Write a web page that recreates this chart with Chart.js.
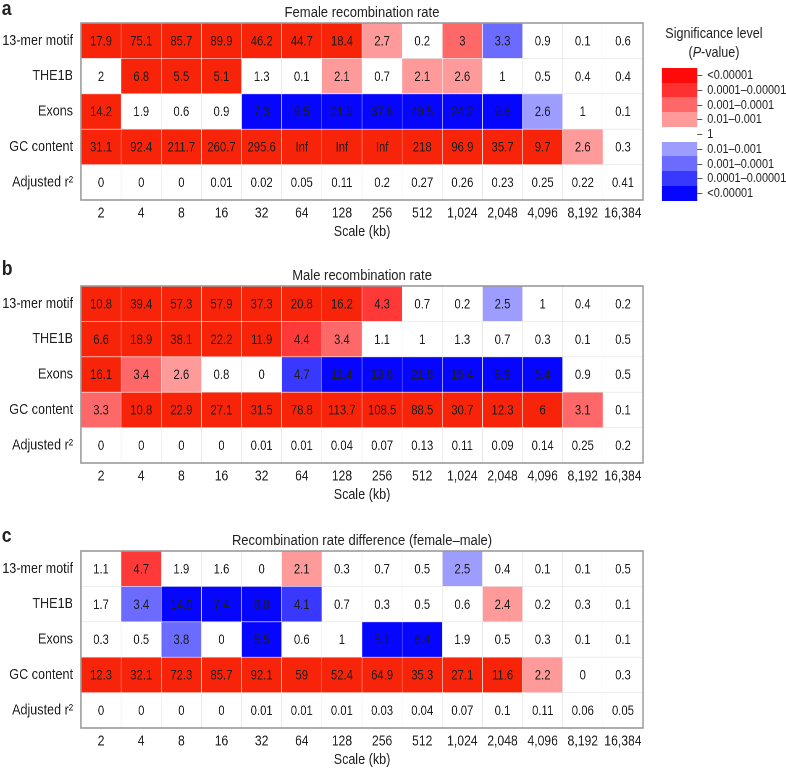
<!DOCTYPE html>
<html>
<head>
<meta charset="utf-8">
<script src="https://cdn.jsdelivr.net/npm/chart.js@4.4.0/dist/chart.umd.min.js"></script>
<style>
    body { margin: 0; background: #fff; width: 786px; height: 768px; overflow: hidden; position: relative; color: #222; }
    /* the source figure is horizontally condensed; lay out wide, then squeeze */
    #fig { position: absolute; left: 0; top: 0; width: 936px; height: 768px; transform: scaleX(0.84); transform-origin: 0 0;
           font-family: "Liberation Sans", Arial, sans-serif; }
    .panel { position: absolute; left: 0; }
    .letter { position: absolute; left: 2px; font-weight: bold; font-size: 21px; line-height: 22px; }
    .ttl { position: absolute; left: 96px; width: 670px; text-align: center; font-size: 15.5px; line-height: 18px; }
    .leg-title { position: absolute; left: 774px; width: 152px; text-align: center; font-size: 15px; line-height: 19px; }
    .sw { position: absolute; left: 788px; width: 42px; }
    .tk { position: absolute; left: 830px; width: 6px; height: 1px; background: #555; }
    .lbl { position: absolute; left: 842px; font-size: 13px; line-height: 14px; white-space: nowrap; }
</style>
</head>
<body>
<div id="fig">
<div class="letter" style="top:-3px">a</div>
<div class="ttl" style="top:3px">Female recombination rate</div>
<canvas id="chartA" class="panel" style="top:0"></canvas>

<div class="letter" style="top:257px">b</div>
<div class="ttl" style="top:266px">Male recombination rate</div>
<canvas id="chartB" class="panel" style="top:263px"></canvas>

<div class="letter" style="top:524px">c</div>
<div class="ttl" style="top:531px">Recombination rate difference (female–male)</div>
<canvas id="chartC" class="panel" style="top:528px"></canvas>

<div class="leg-title" style="top:23px">Significance level<br>(<i>P</i>-value)</div>
<div id="legend"></div>
</div>

<script>
        // scale (kb) on the x axis, predictors on the y axis
        const scaleLabels = ['2', '4', '8', '16', '32', '64', '128', '256', '512', '1,024', '2,048', '4,096', '8,192', '16,384'];
        const rowNames = ['13-mer motif', 'THE1B', 'Exons', 'GC content', 'Adjusted r²'];

        // a: female recombination rate (-log10 P, Inf = beyond precision)
        const femaleMotif = [17.9, 75.1, 85.7, 89.9, 46.2, 44.7, 18.4, 2.7, 0.2, 3, 3.3, 0.9, 0.1, 0.6];
        const femaleThe1b = [2, 6.8, 5.5, 5.1, 1.3, 0.1, 2.1, 0.7, 2.1, 2.6, 1, 0.5, 0.4, 0.4];
        const femaleExons = [14.2, 1.9, 0.6, 0.9, 7.3, 9.5, 21.9, 37.6, 49.5, 24.2, 9.6, 2.6, 1, 0.1];
        const femaleGC = [31.1, 92.4, 211.7, 260.7, 295.6, Infinity, Infinity, Infinity, 218, 96.9, 35.7, 9.7, 2.6, 0.3];
        const femaleR2 = [0, 0, 0, 0.01, 0.02, 0.05, 0.11, 0.2, 0.27, 0.26, 0.23, 0.25, 0.22, 0.41];
        // direction of effect per cell: + positive (red), - negative (blue)
        const femaleSign = ['++++++++++--++', '++++++++++++++', '++++----------', '++++++++++++++'];

        // b: male recombination rate
        const maleMotif = [10.8, 39.4, 57.3, 57.9, 37.3, 20.8, 16.2, 4.3, 0.7, 0.2, 2.5, 1, 0.4, 0.2];
        const maleThe1b = [6.6, 18.9, 38.1, 22.2, 11.9, 4.4, 3.4, 1.1, 1, 1.3, 0.7, 0.3, 0.1, 0.5];
        const maleExons = [16.1, 3.4, 2.6, 0.8, 0, 4.7, 11.4, 13.6, 21.8, 15.4, 8.9, 5.4, 0.9, 0.5];
        const maleGC = [3.3, 10.8, 22.9, 27.1, 31.5, 78.8, 113.7, 108.5, 88.5, 30.7, 12.3, 6, 3.1, 0.1];
        const maleR2 = [0, 0, 0, 0, 0.01, 0.01, 0.04, 0.07, 0.13, 0.11, 0.09, 0.14, 0.25, 0.2];
        const maleSign = ['++++++++++-+++', '++++++++++++++', '+++++-------++', '++++++++++++++'];

        // c: recombination rate difference (female-male)
        const diffMotif = [1.1, 4.7, 1.9, 1.6, 0, 2.1, 0.3, 0.7, 0.5, 2.5, 0.4, 0.1, 0.1, 0.5];
        const diffThe1b = [1.7, 3.4, 14.6, 7.4, 6.8, 4.1, 0.7, 0.3, 0.5, 0.6, 2.4, 0.2, 0.3, 0.1];
        const diffExons = [0.3, 0.5, 3.8, 0, 5.5, 0.6, 1, 5.1, 6.4, 1.9, 0.5, 0.3, 0.1, 0.1];
        const diffGC = [12.3, 32.1, 72.3, 85.7, 92.1, 59, 52.4, 64.9, 35.3, 27.1, 11.6, 2.2, 0, 0.3];
        const diffR2 = [0, 0, 0, 0, 0.01, 0.01, 0.01, 0.03, 0.04, 0.07, 0.1, 0.11, 0.06, 0.05];
        const diffSign = ['+++++++++-++++', '+-----++++++++', '++-+-++--+++++', '++++++++++++++'];

        const legendLabels = ['<0.00001', '0.0001–0.00001', '0.001–0.0001', '0.01–0.001', '1',
                              '0.01–0.001', '0.001–0.0001', '0.0001–0.00001', '<0.00001'];

        const reds = ['#ff9a9a', '#ff6868', '#ff3838', '#f8240a'];
        const blues = ['#9d9dff', '#6b6bff', '#3838ff', '#0606ff'];
        const legendColors = ['#ff0a0a', '#ff3030', reds[1], reds[0], '#ffffff', blues[0], blues[1], blues[2], blues[3]];
        const FAMILY = '"Liberation Sans", Arial, sans-serif';

        function level(v) {
            if (v === Infinity || v >= 5) return 4;
            if (v >= 4) return 3;
            if (v >= 3) return 2;
            if (v > 2) return 1;
            return 0;
        }

        function cellColor(v, sign) {
            const l = level(v);
            if (!l || !sign) return '#ffffff';
            return sign === '-' ? blues[l - 1] : reds[l - 1];
        }

        const cellText = {
            id: 'cellText',
            afterDatasetsDraw(chart) {
                const ctx = chart.ctx;
                ctx.save();
                ctx.font = '13.5px ' + FAMILY;
                ctx.fillStyle = '#1e1e1e';
                ctx.textAlign = 'center';
                ctx.textBaseline = 'middle';
                chart.data.datasets.forEach((ds, r) => {
                    chart.getDatasetMeta(r).data.forEach((bar, c) => {
                        const p = bar.getCenterPoint();
                        const v = ds.values[c];
                        ctx.fillText(v === Infinity ? 'Inf' : String(v), p.x, p.y + 1);
                    });
                });
                const a = chart.chartArea;
                ctx.strokeStyle = '#9a9a9a';
                ctx.lineWidth = 1.6;
                ctx.strokeRect(a.left, a.top, a.right - a.left, a.bottom - a.top);
                ctx.restore();
            }
        };

        function drawPanel(id, rows, signs) {
            const datasets = rows.map((vals, r) => ({
                values: vals,
                data: vals.map(() => [r, r + 1]),
                backgroundColor: vals.map((v, c) => cellColor(v, signs[r] ? signs[r][c] : null)),
                borderColor: vals.map((v, c) => level(v) && signs[r] ? 'rgba(255,255,255,0.55)' : '#e2e2e2'),
                borderWidth: 0.6,
                borderSkipped: false,
                grouped: false,
                categoryPercentage: 1,
                barPercentage: 1
            }));

            const canvas = document.getElementById(id);
            canvas.width = 774;
            canvas.height = 245;

            new Chart(canvas, {
                type: 'bar',
                data: { labels: scaleLabels, datasets },
                options: {
                    responsive: false,
                    animation: false,
                    devicePixelRatio: 2,
                    layout: { padding: { top: 23, right: 8.5, left: 0, bottom: 0 } },
                    plugins: { legend: { display: false }, tooltip: { enabled: false } },
                    scales: {
                        x: {
                            grid: { display: false, drawTicks: false },
                            border: { display: false },
                            ticks: { color: '#222', font: { size: 14.5, family: FAMILY }, padding: 5, maxRotation: 0, autoSkip: false },
                            title: { display: true, text: 'Scale (kb)', color: '#222', font: { size: 15, family: FAMILY }, padding: { top: 1 } },
                            afterFit: s => { s.height = 45; }
                        },
                        y: {
                            type: 'linear', min: 0, max: 5, reverse: true,
                            grid: { display: false, drawTicks: false },
                            border: { display: false },
                            afterBuildTicks: s => { s.ticks = rowNames.map((_, i) => ({ value: i + 0.5 })); },
                            afterFit: s => { s.width = 96.4; },
                            ticks: {
                                autoSkip: false, padding: 9.5, color: '#222',
                                font: { size: 15, family: FAMILY },
                                callback: v => rowNames[Math.floor(v)]
                            }
                        }
                    }
                },
                plugins: [cellText]
            });
        }

        drawPanel('chartA', [femaleMotif, femaleThe1b, femaleExons, femaleGC, femaleR2], femaleSign);
        drawPanel('chartB', [maleMotif, maleThe1b, maleExons, maleGC, maleR2], maleSign);
        drawPanel('chartC', [diffMotif, diffThe1b, diffExons, diffGC, diffR2], diffSign);

        // significance legend
        const step = 14.7;
        document.getElementById('legend').innerHTML = legendLabels.map((lab, i) => {
            const top = 68 + i * step;
            return `<div class="sw" style="top:${top}px;height:${step + 0.5}px;background:${legendColors[i]}"></div>
                    <div class="tk" style="top:${Math.round(top + step / 2)}px"></div>
                    <div class="lbl" style="top:${Math.round(top + step / 2 - 7)}px">${lab}</div>`;
        }).join('');
</script>
</body>
</html>
